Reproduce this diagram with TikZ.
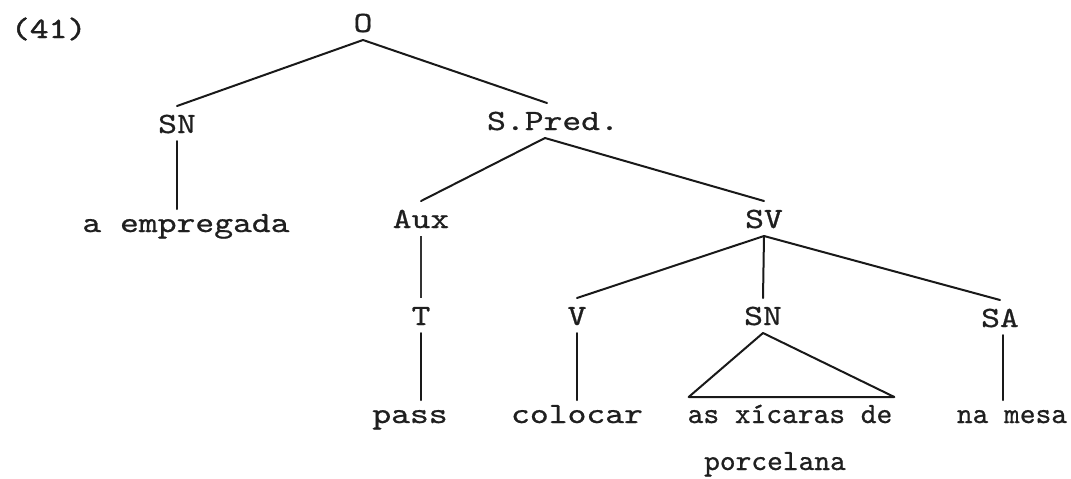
\documentclass[tikz,border=0pt]{standalone}
\usepackage{fontspec}
\usetikzlibrary{calc}
% serif typewriter faces: a regular one and a narrower one for the lower right leaves
\newfontfamily\tw{lmmono10-regular}[Extension=.otf, FakeStretch=1.22, FakeBold=0.7]
\newfontfamily\twn{lmmono10-regular}[Extension=.otf, FakeStretch=1.02, FakeBold=0.7]
\newfontfamily\twb{lmmono10-regular}[Extension=.otf, FakeStretch=1.22, FakeBold=1.5]

\begin{document}
\begin{tikzpicture}[x=0.5pt,y=-0.5pt,
  lbl/.style={inner sep=0pt, outer sep=4pt, text height=9.5pt, text depth=0pt,
    anchor=base, text=black!88, font=\tw\fontsize{14.7}{18}\selectfont},
  leaf/.style={lbl, outer sep=2pt},
  narrow/.style={leaf, font=\twn\fontsize{14.7}{18}\selectfont},
  branch/.style={line width=1pt, line cap=round, draw=black!90},
  faint/.style={line width=0.6pt, draw=black!80}]

\useasboundingbox (0,0) rectangle (1071,478);

% labels
\node[lbl, anchor=base west, font=\twb\fontsize{14.7}{18}\selectfont] (num) at (3,38) {(41)};
\node[lbl] (O) at (363,32) {O};
\node[lbl] (sn1) at (177,133) {SN};
\node[lbl] (spred) at (553,130) {S.Pred.};
\node[leaf] (emp) at (186,232) {a empregada};
\node[lbl] (aux) at (421,228) {Aux};
\node[lbl] (sv) at (764,228) {SV};
\node[lbl] (t) at (421,325) {T};
\node[lbl] (v) at (577,325) {V};
\node[lbl] (sn2) at (763,325) {SN};
\node[lbl] (sa) at (1000,327) {SA};
\node[leaf] (pass) at (410,423) {pass};
\node[leaf] (col) at (577,423) {colocar};
\node[narrow] (xic) at (790,423) {as xícaras de};
\node[narrow] (mesa) at (1012,423) {na mesa};
\node[narrow] (porc) at (775,470) {porcelana};

% branch end points that sit off the label centres
\coordinate (sptop) at ($(spred.north)+(-6,0)$);
\coordinate (spbot) at ($(spred.south)+(-8,0)$);
\coordinate (satop) at ($(sa.south)+(3,0)$);
\coordinate (sabot) at (satop |- mesa.north);
\coordinate (trl) at ($(xic.north west)+(5,-3)$);
\coordinate (trr) at ($(xic.north east)+(-2,-3)$);

% branches
\draw[branch] (O.south) -- (sn1.north);
\draw[branch] (O.south) -- (sptop);
\draw[branch] (sn1.south) -- (sn1.south |- emp.north);
\draw[branch] (spbot) -- (aux.north);
\draw[branch] (spbot) -- (sv.north);
\draw[faint] (aux.south) -- (t.north);
\draw[branch] (t.south) -- (t.south |- pass.north);
\draw[branch] (sv.south) -- (v.north);
\draw[branch] (sv.south) -- (sn2.north);
\draw[branch] (sv.south) -- (sa.north);
\draw[branch] (v.south) -- (col.north);
\draw[branch] (satop) -- (sabot);
\draw[branch, line join=round] (sn2.south) -- (trl) -- (trr) -- cycle;
\end{tikzpicture}
\end{document}
